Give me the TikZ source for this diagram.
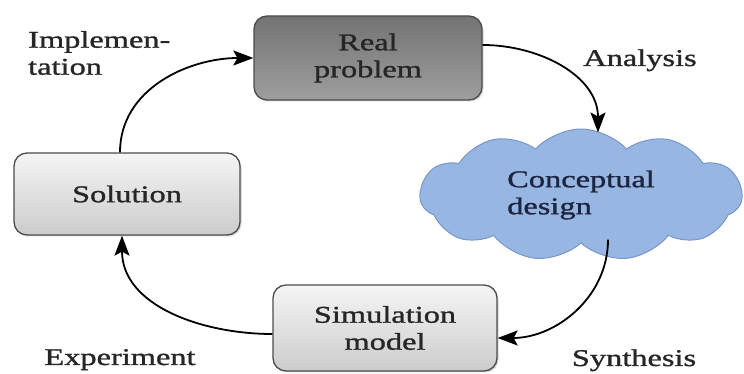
\documentclass[tikz,border=0pt]{standalone}
\usepackage{fontspec}
\setmainfont{Liberation Serif}[FakeStretch=1.35, FakeBold=1.2]
\usetikzlibrary{arrows.meta,shapes.symbols,shadows,calc}
\definecolor{cloudblue}{RGB}{152,182,226}
\definecolor{cloudline}{RGB}{120,150,200}
\definecolor{navytext}{RGB}{28,37,65}
\begin{document}
\begin{tikzpicture}[x=1pt,y=1pt,
	box/.style={rounded corners=13pt, draw=black!70, line width=1.3pt, align=center,
		font=\fontsize{24}{27}\selectfont, text=black!85,
		drop shadow={opacity=0.35, shadow xshift=1.5pt, shadow yshift=-1.5pt}},
	arr/.style={-{Stealth[length=20pt,width=15pt,inset=4pt]}, line width=1.8pt},
	lbl/.style={font=\fontsize{24}{27}\selectfont, text=black!85, inner sep=0pt}]
	\useasboundingbox (0,0) rectangle (744,374);
	%boxes of the cycle
	\node[box, minimum width=228pt, minimum height=84pt, top color=black!55, bottom color=black!38] (real) at (368,316) {Real\\problem};
	\node[box, minimum width=226pt, minimum height=82pt, top color=black!4, bottom color=black!20] (solution) at (127,180) {Solution};
	\node[box, minimum width=224pt, minimum height=86pt, top color=black!4, bottom color=black!20] (sim) at (385,46) {Simulation\\model};
	\node[cloud, cloud puffs=11, cloud puff arc=95, cloud ignores aspect, minimum width=322pt, minimum height=132pt,
		fill=cloudblue, draw=cloudline, line width=1pt, align=left, text=navytext,
		font=\fontsize{24}{27}\selectfont] (cloud) at (581,179) {Conceptual\\design};
	
	%arrows
	\draw[arr] ([yshift=13pt]real.east) to[out=0, in=90] ([xshift=17pt,yshift=-4pt]cloud.north);
	\draw[arr] ([xshift=27pt,yshift=4pt]cloud.south) to[out=-90, in=0] ([yshift=-10pt]sim.east);
	\draw[arr] ([yshift=-6pt]sim.west) to[out=180, in=-90] ([xshift=-5pt]solution.south);
	\draw[arr] ([xshift=-7pt]solution.north) to[out=90, in=180] (real.west);
	
	%labels
	\node[lbl, anchor=west, align=left] (impl) at (28,321) {Implemen-\\tation};
	\node[lbl, anchor=base] (analysis) at (640,308) {Analysis};
	\node[lbl, anchor=base] (experiment) at (120,9) {Experiment};
	\node[lbl, anchor=base] (synthesis) at (634,8) {Synthesis};
\end{tikzpicture}
\end{document}
